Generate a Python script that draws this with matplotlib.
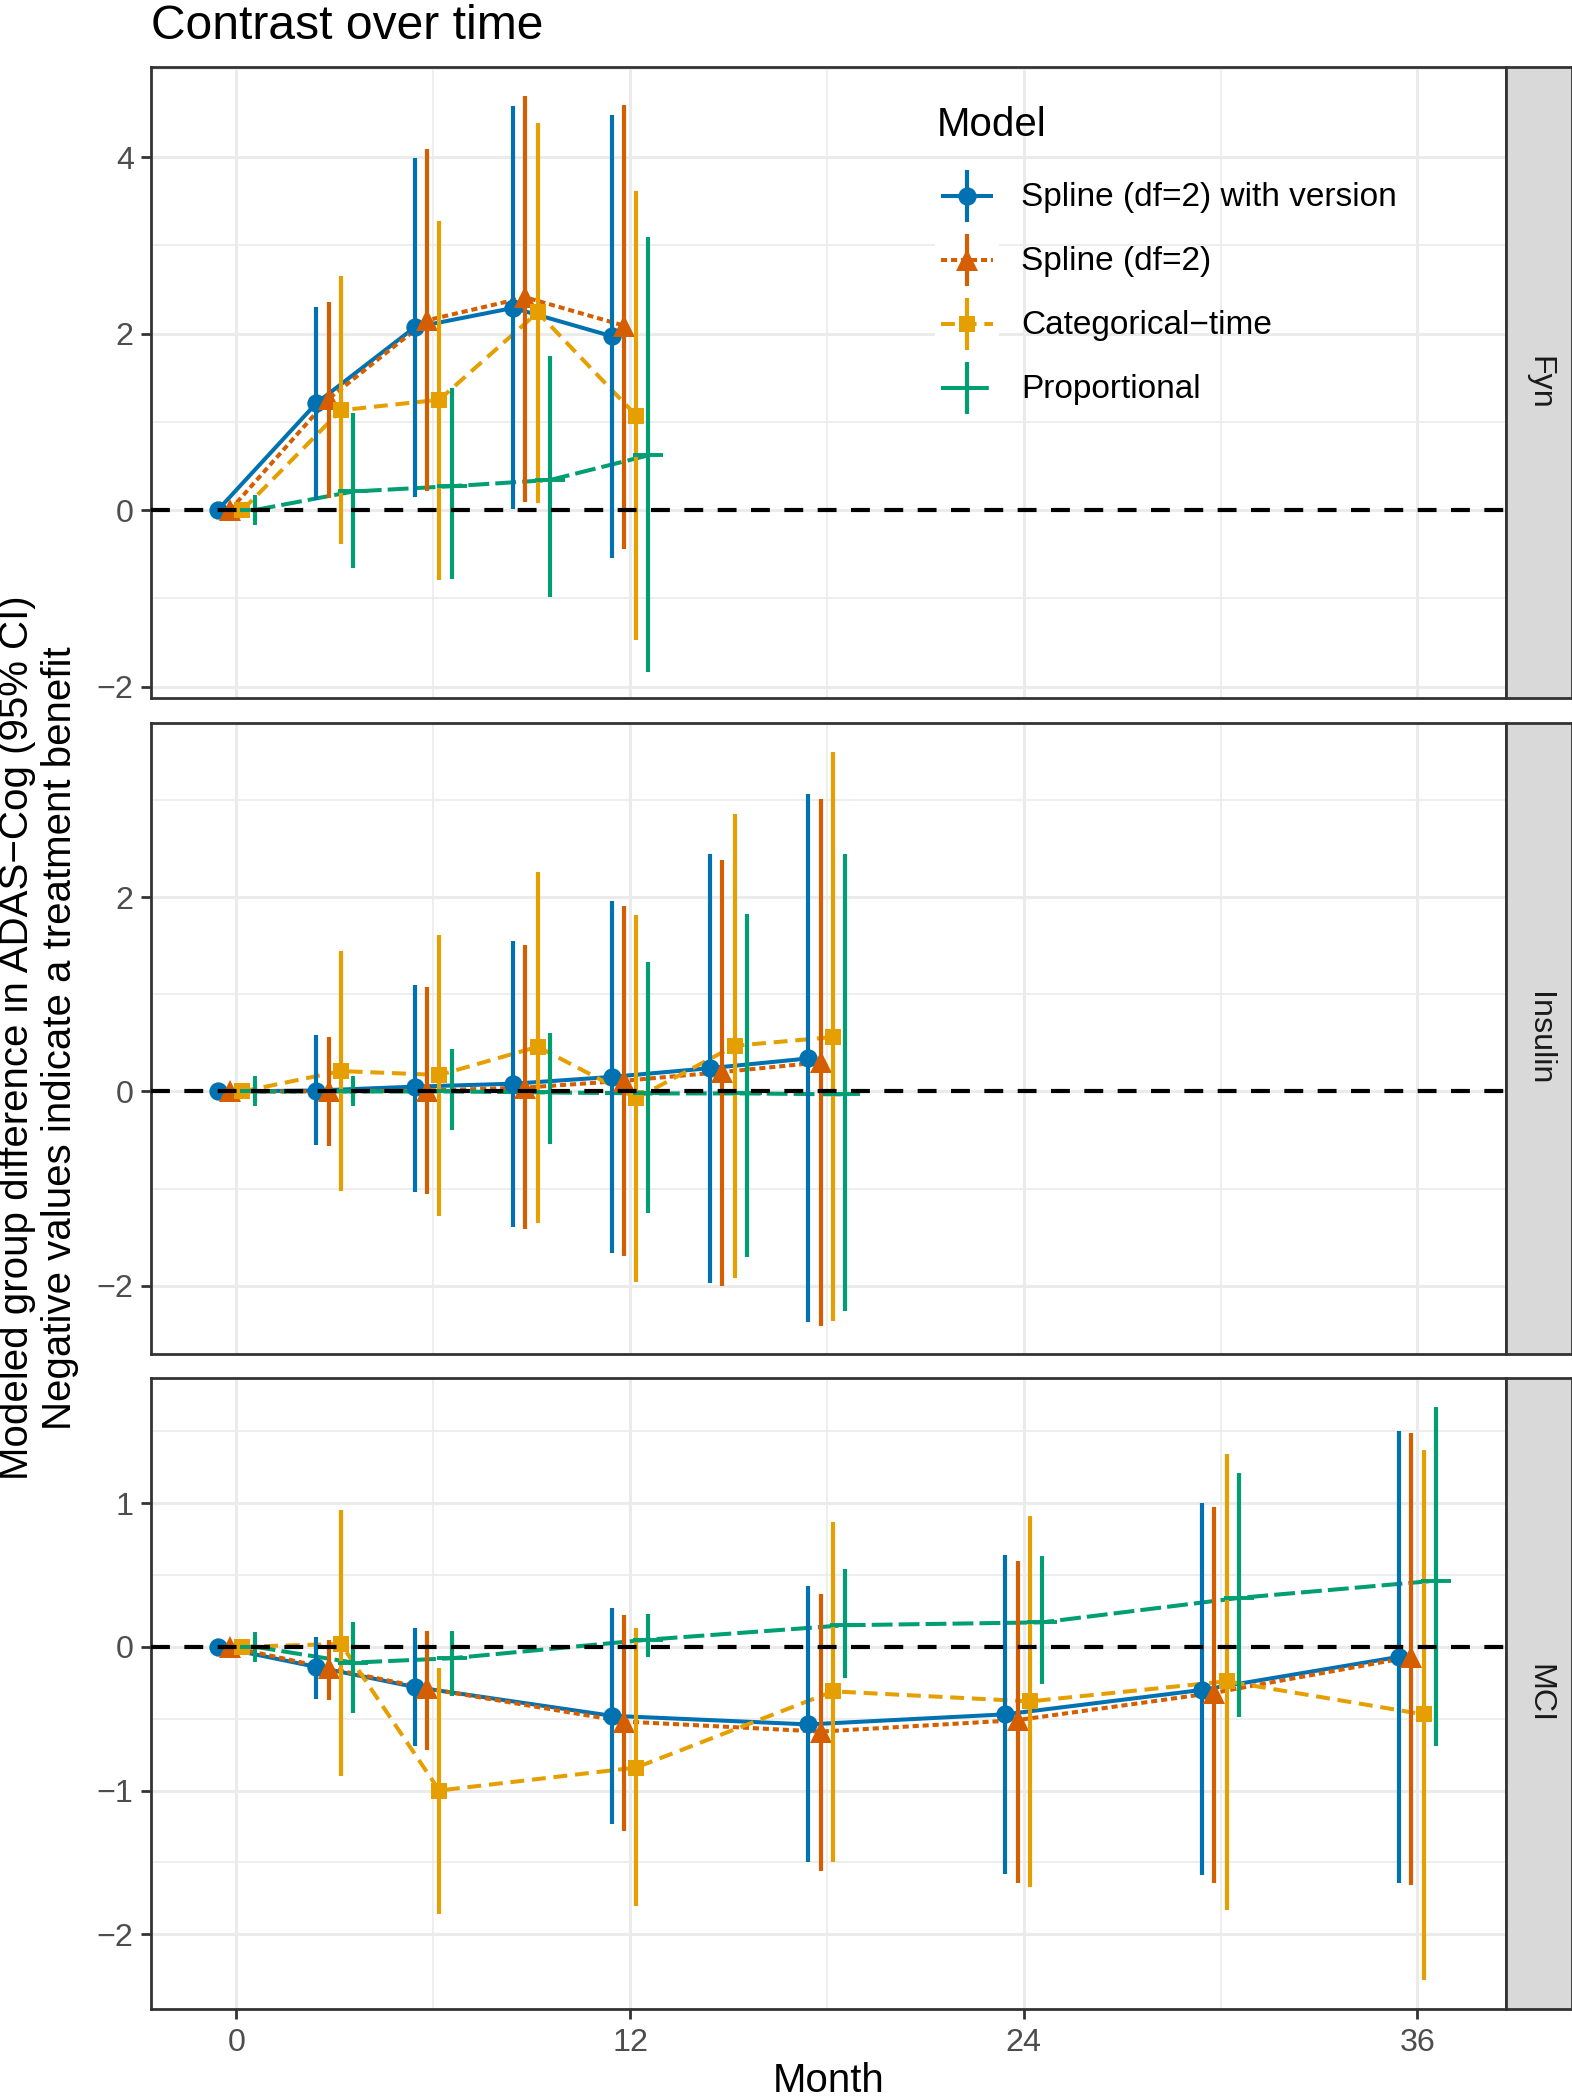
import matplotlib
matplotlib.use("Agg")
import matplotlib.pyplot as plt
import numpy as np
from matplotlib.lines import Line2D
from matplotlib.patches import Rectangle
from matplotlib.legend_handler import HandlerBase

plt.rcParams['font.family'] = ['Liberation Sans', 'DejaVu Sans']
plt.rcParams['lines.scale_dashes'] = False

# ---------------- data ----------------
models = ["Spline (df=2) with version", "Spline (df=2)", "Categorical\u2212time", "Proportional"]
colors = ["#0072B2", "#D55E00", "#E69F00", "#009E73"]

fyn_time = [0, 3, 6, 9, 12]
fyn_est = [[0, 1.21, 2.07, 2.29, 1.97],
           [0, 1.26, 2.15, 2.41, 2.09],
           [0, 1.13, 1.25, 2.24, 1.07],
           [0, 0.21, 0.27, 0.34, 0.62]]
fyn_lo = [[0, 0.11, 0.15, 0.01, -0.54],
          [0, 0.14, 0.21, 0.09, -0.44],
          [0, -0.39, -0.79, 0.08, -1.47],
          [-0.13, -0.66, -0.78, -0.99, -1.83]]
fyn_hi = [[0, 2.30, 3.99, 4.58, 4.48],
          [0, 2.36, 4.09, 4.69, 4.59],
          [0, 2.65, 3.28, 4.39, 3.61],
          [0.12, 1.10, 1.38, 1.74, 3.09]]

ins_time = [0, 3, 6, 9, 12, 15, 18]
ins_est = [[0, 0.01, 0.05, 0.08, 0.15, 0.24, 0.34],
           [0, 0.00, 0.01, 0.04, 0.11, 0.20, 0.30],
           [0, 0.21, 0.17, 0.46, -0.07, 0.47, 0.56],
           [0, 0.00, 0.00, -0.01, -0.02, -0.02, -0.03]]
ins_lo = [[0, -0.55, -1.03, -1.39, -1.66, -1.97, -2.37],
          [0, -0.56, -1.05, -1.41, -1.69, -2.00, -2.41],
          [0, -1.02, -1.28, -1.35, -1.96, -1.92, -2.36],
          [-0.11, -0.12, -0.40, -0.54, -1.25, -1.70, -2.26]]
ins_hi = [[0, 0.58, 1.10, 1.55, 1.96, 2.44, 3.06],
          [0, 0.56, 1.07, 1.51, 1.91, 2.38, 3.01],
          [0, 1.44, 1.61, 2.26, 1.82, 2.85, 3.49],
          [0.11, 0.13, 0.44, 0.60, 1.33, 1.83, 2.44]]

mci_time = [0, 3, 6, 12, 18, 24, 30, 36]
mci_est = [[0, -0.14, -0.28, -0.48, -0.54, -0.47, -0.30, -0.07],
           [0, -0.15, -0.29, -0.52, -0.59, -0.51, -0.32, -0.07],
           [0, 0.02, -1.00, -0.84, -0.31, -0.38, -0.24, -0.47],
           [0, -0.11, -0.08, 0.05, 0.15, 0.17, 0.34, 0.46]]
mci_lo = [[0, -0.36, -0.69, -1.23, -1.50, -1.58, -1.59, -1.64],
          [0, -0.37, -0.72, -1.28, -1.56, -1.64, -1.64, -1.66],
          [0, -0.90, -1.86, -1.80, -1.50, -1.67, -1.83, -2.32],
          [-0.07, -0.46, -0.34, -0.07, -0.22, -0.26, -0.49, -0.69]]
mci_hi = [[0, 0.07, 0.13, 0.27, 0.42, 0.64, 1.00, 1.50],
          [0, 0.05, 0.11, 0.22, 0.37, 0.60, 0.97, 1.49],
          [0, 0.95, -0.15, 0.13, 0.87, 0.91, 1.34, 1.37],
          [0.07, 0.17, 0.11, 0.23, 0.54, 0.63, 1.21, 1.67]]

panel_names = ["Fyn", "Insulin", "MCI"]
x_ticks = [0, 12, 24, 36]

# ---------------- styling ----------------
W, H = 1572, 2100
DPI = 200
fig = plt.figure(figsize=(W / DPI, H / DPI), dpi=DPI)
fig.patch.set_facecolor("white")

def fx(px):
    return px / W

def fy(px):
    return 1 - px / H

dodge = [-0.5625, -0.1875, 0.1875, 0.5625]
dashes = [None, (2.2, 1.4), (5.0, 2.8), (7.5, 2.2)]
markers = ["o", "^", "s", "+"]
msizes = [6.6, 8.2, 6.0, 10.5]
LW = 1.45
ELW = 1.5

panels = [
    ("Fyn", 67, 698, fyn_time, fyn_est, fyn_lo, fyn_hi, (-2.13, 5.02), [-2, 0, 2, 4], [-1, 1, 3, 5]),
    ("Insulin", 723, 1354, ins_time, ins_est, ins_lo, ins_hi, (-2.70, 3.79), [-2, 0, 2], [-1, 1, 3]),
    ("MCI", 1378, 2009, mci_time, mci_est, mci_lo, mci_hi, (-2.52, 1.87), [-2, -1, 0, 1], [-1.5, -0.5, 0.5, 1.5]),
]
L, R = 151, 1506
STRIP_R = 1572

grid_c = "#EBEBEB"
dark = "#333333"

axes = []
for i, (name, top, bot, t, est, lo, hi, ylim, yt, ymin) in enumerate(panels):
    ax = fig.add_axes([fx(L), fy(bot), (R - L) / W, (bot - top) / H])
    axes.append(ax)
    ax.set_xlim(-2.6, 38.7)
    ax.set_ylim(*ylim)
    ax.set_xticks(x_ticks)
    ax.set_xticks([6, 18, 30], minor=True)
    ax.set_yticks(yt)
    ax.set_yticks(ymin, minor=True)
    ax.set_yticklabels([("\u2212%g" % abs(v)) if v < 0 else "%g" % v for v in yt])
    ax.grid(which="major", color=grid_c, lw=1.1, zorder=0)
    ax.grid(which="minor", color=grid_c, lw=0.6, zorder=0)
    ax.set_axisbelow(True)
    for s in ax.spines.values():
        s.set_color(dark)
        s.set_linewidth(1.0)
    ax.tick_params(which="minor", length=0)
    ax.tick_params(which="major", direction="out", length=3.6, width=1.0, color=dark,
                   labelsize=11.6, labelcolor="#4D4D4D")
    ax.tick_params(axis="y", pad=2.6)
    ax.tick_params(axis="x", pad=3.4)
    if i < 2:
        ax.tick_params(axis="x", bottom=False, labelbottom=False)

    tt = np.array(t, dtype=float)
    # lines
    for m in range(4):
        ln, = ax.plot(tt + dodge[m], est[m], color=colors[m], lw=LW, zorder=2,
                      solid_capstyle="butt", dash_capstyle="butt")
        if dashes[m] is not None:
            ln.set_dashes(dashes[m])
    # ranges + points
    for m in range(4):
        ax.vlines(tt + dodge[m], lo[m], hi[m], color=colors[m], lw=ELW, zorder=3)
        if markers[m] == "+":
            ax.plot(tt + dodge[m], est[m], linestyle="none", marker="+", ms=msizes[m],
                    mew=1.4, color=colors[m], zorder=3)
        else:
            ax.plot(tt + dodge[m], est[m], linestyle="none", marker=markers[m], ms=msizes[m],
                    mew=0, color=colors[m], zorder=3)
    hl = ax.axhline(0, color="black", lw=1.5, zorder=5)
    hl.set_dashes((6.8, 5.2))

    # strip
    sax = fig.add_axes([fx(R), fy(bot), (STRIP_R - R) / W, (bot - top) / H])
    sax.set_facecolor("#D9D9D9")
    sax.set_xticks([])
    sax.set_yticks([])
    for s in sax.spines.values():
        s.set_color(dark)
        s.set_linewidth(1.0)
    sax.text(0.5, 0.5, name, rotation=-90, ha="center", va="center", fontsize=11.6,
             color="#1A1A1A", transform=sax.transAxes)

axes[2].set_xticklabels([str(v) for v in x_ticks])

# ---------------- legend ----------------
class PRHandler(HandlerBase):
    def __init__(self, idx):
        super().__init__()
        self.idx = idx

    def create_artists(self, legend, orig_handle, xdescent, ydescent, width, height, fontsize, trans):
        m = self.idx
        x0, y0 = -xdescent, -ydescent
        cx, cy = x0 + width / 2, y0 + height / 2
        rect = Rectangle((x0, y0), width, height, facecolor="white", edgecolor="none", transform=trans)
        h = Line2D([x0 + 0.1 * width, x0 + 0.9 * width], [cy, cy], color=colors[m], lw=LW,
                   transform=trans, solid_capstyle="butt", dash_capstyle="butt")
        if dashes[m] is not None:
            h.set_dashes(dashes[m])
        v = Line2D([cx, cx], [y0 + 0.08 * height, y0 + 0.92 * height], color=colors[m], lw=ELW,
                   transform=trans, solid_capstyle="butt")
        if markers[m] == "+":
            p = Line2D([cx], [cy], marker="+", ms=msizes[m], mew=1.4, color=colors[m],
                       linestyle="none", transform=trans)
        else:
            p = Line2D([cx], [cy], marker=markers[m], ms=msizes[m], mew=0, color=colors[m],
                       linestyle="none", transform=trans)
        return [rect, h, v, p]

handles = [Line2D([], [], color=c) for c in colors]
hmap = {h: PRHandler(i) for i, h in enumerate(handles)}
leg_fs = 12.0
leg_fs_px = leg_fs * DPI / 72
leg = axes[0].legend(handles, models, handler_map=hmap, loc="upper left",
                     bbox_to_anchor=(fx(935), fy(165)), bbox_transform=fig.transFigure,
                     frameon=False, borderpad=0, borderaxespad=0, fontsize=leg_fs,
                     handlelength=64 / leg_fs_px, handleheight=2.47,
                     labelspacing=2.3 / leg_fs_px, handletextpad=22 / leg_fs_px)
leg.set_zorder(10)
fig.text(fx(937), fy(136), "Model", fontsize=14.5, ha="left", va="baseline")

# ---------------- titles ----------------
fig.text(fx(151), fy(39), "Contrast over time", fontsize=17.3, ha="left", va="baseline")
fig.text(fx((L + R) / 2), fy(2092), "Month", fontsize=14.5, ha="center", va="baseline")
mid = (67 + 2009) / 2
fig.text(fx(17), fy(mid), "Modeled group difference in ADAS\u2212Cog (95% CI)", fontsize=14.5,
         rotation=90, ha="center", va="center")
fig.text(fx(60), fy(mid), "Negative values indicate a treatment benefit", fontsize=14.5,
         rotation=90, ha="center", va="center")

fig.savefig("out.png", dpi=DPI)
